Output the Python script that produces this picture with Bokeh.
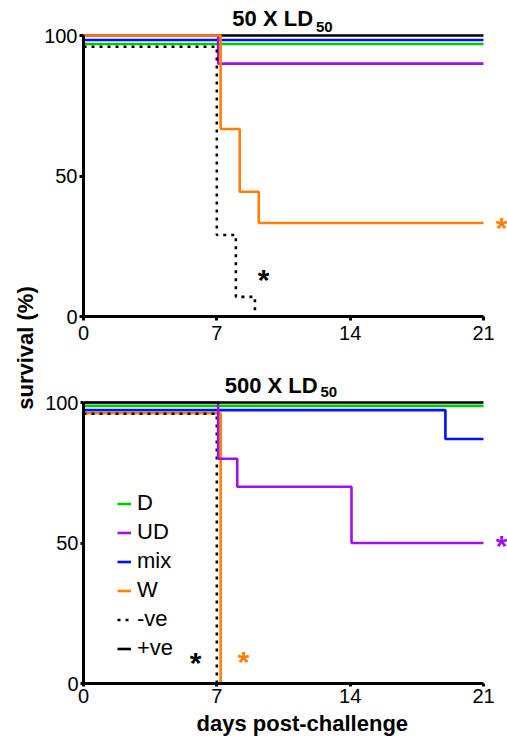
import math
from bokeh.plotting import figure
from bokeh.layouts import row, column
from bokeh.models import Range1d, FixedTicker, Legend, LegendItem
from bokeh.core.properties import value
from bokeh.embed import file_html
from bokeh.resources import INLINE

FONT = "Liberation Sans"

# ---------------- data ----------------
groups = ["D", "UD", "mix", "W", "-ve", "+ve"]
colors = {"D": "#00C800", "UD": "#A010E8", "mix": "#0010F8", "W": "#FF8000",
          "-ve": "black", "+ve": "black"}

x_ticks = [0, 7, 14, 21]
y_ticks = [0, 50, 100]

# 50 X LD50 (days, survival %)
top_D_days = [0, 21];                      top_D_surv = [97, 97]
top_UD_days = [0, 7.07, 21];               top_UD_surv = [100, 90, 90]
top_mix_days = [0, 21];                    top_mix_surv = [98.4, 98.4]
top_W_days = [0, 7.2, 8.2, 9.2, 21];       top_W_surv = [100, 66.7, 44.4, 33.3, 33.3]
top_neg_days = [0, 7.0, 8.0, 9.0];         top_neg_surv = [96, 29, 7, 0]
top_pos_days = [0, 21];                    top_pos_surv = [100, 100]

# 500 X LD50
bot_D_days = [0, 21];                      bot_D_surv = [98.8, 98.8]
bot_UD_days = [0, 7.07, 8.07, 14.07, 21];  bot_UD_surv = [100, 80, 70, 50, 50]
bot_mix_days = [0, 19, 21];                bot_mix_surv = [97.3, 87, 87]
bot_W_days = [0, 7.2];                     bot_W_surv = [96.2, 0]
bot_neg_days = [0, 7.0];                   bot_neg_surv = [96, 0]
bot_pos_days = [0, 21];                    bot_pos_surv = [100, 100]

LW = 2.6
DASH = "3 5"
PX = 2.81           # pixels per % on the y axis
DAY_PX = 400 / 21   # pixels per day on the x axis
FRAME_W = 424


def style(p, label_standoff, tick_out):
    p.xgrid.visible = False
    p.ygrid.visible = False
    p.outline_line_color = None
    p.background_fill_color = "white"
    for ax in (p.xaxis[0], p.yaxis[0]):
        ax.axis_line_width = 3
        ax.axis_line_color = "black"
        ax.major_tick_line_width = 3
        ax.major_tick_line_color = "black"
        ax.major_tick_in = 0
        ax.major_tick_out = tick_out
        ax.minor_tick_line_color = None
        ax.major_label_text_font = FONT
        ax.major_label_text_font_size = "20px"
        ax.major_label_text_color = "black"
    p.xaxis[0].ticker = FixedTicker(ticks=x_ticks)
    p.yaxis[0].ticker = FixedTicker(ticks=y_ticks)
    p.xaxis[0].bounds = (0, 21)
    p.yaxis[0].bounds = (0, 100)
    p.xaxis[0].major_label_standoff = label_standoff
    p.yaxis[0].major_label_standoff = 2


def step(p, xs, ys, g):
    kw = dict(mode="after", line_color=colors[g], line_width=LW)
    if g == "-ve":
        kw["line_dash"] = DASH
    return p.step(xs, ys, **kw)


def txt(p, x, y, s, size, color="black", align="left", bold=True):
    p.text(x=[x], y=[y], text=[s], text_align=align, text_baseline="alphabetic",
           text_font=value(FONT), text_font_style="bold" if bold else "normal",
           text_font_size=size, text_color=color)


# ---------------- top panel ----------------
top = figure(frame_width=FRAME_W, frame_height=316,
             x_range=Range1d(0, FRAME_W / DAY_PX), y_range=Range1d(0, 316 / PX),
             min_border_left=43, min_border_right=0, min_border_top=0,
             min_border_bottom=32, output_backend="svg", toolbar_location=None)
style(top, label_standoff=5, tick_out=4)

step(top, top_pos_days, top_pos_surv, "+ve")
step(top, top_D_days, top_D_surv, "D")
step(top, top_mix_days, top_mix_surv, "mix")
step(top, top_UD_days, top_UD_surv, "UD")
step(top, top_neg_days, top_neg_surv, "-ve")
step(top, top_W_days, top_W_surv, "W")

txt(top, 12.05, 106.0, "50 X LD", "22px", align="right")
txt(top, 12.2, 103.1, "50", "15px")
txt(top, 9.45, 13.3, "*", "30px", align="center")
txt(top, 21.95, 31.7, "*", "30px", color=colors["W"], align="center")

# ---------------- bottom panel ----------------
bot = figure(frame_width=FRAME_W, frame_height=335,
             x_range=Range1d(0, FRAME_W / DAY_PX), y_range=Range1d(0, 335 / PX),
             min_border_left=43, min_border_right=0, min_border_top=0,
             min_border_bottom=28, output_backend="svg", toolbar_location=None)
style(bot, label_standoff=2, tick_out=3)

r = {}
r["W"] = step(bot, bot_W_days, bot_W_surv, "W")
r["-ve"] = step(bot, bot_neg_days, bot_neg_surv, "-ve")
r["D"] = step(bot, bot_D_days, bot_D_surv, "D")
r["mix"] = step(bot, bot_mix_days, bot_mix_surv, "mix")
r["UD"] = step(bot, bot_UD_days, bot_UD_surv, "UD")
r["+ve"] = step(bot, bot_pos_days, bot_pos_surv, "+ve")

txt(bot, 12.29, 106.15, "500 X LD", "22px", align="right")
txt(bot, 12.44, 103.7, "50", "15px")
txt(bot, 5.88, 7.3, "*", "30px", align="center")
txt(bot, 8.4, 8.0, "*", "30px", color=colors["W"], align="center")
txt(bot, 21.95, 49.2, "*", "30px", color=colors["UD"], align="center")

legend = Legend(items=[LegendItem(label=g, renderers=[r[g]]) for g in groups],
                location=(34, 22), padding=0, margin=0, spacing=3,
                glyph_height=25, glyph_width=14, label_height=25,
                label_standoff=6, label_text_font=FONT,
                label_text_font_size="22px", label_text_color="black",
                border_line_color=None, background_fill_alpha=0)
bot.add_layout(legend)

# ---------------- axis titles ----------------
ylab = figure(width=40, height=736, x_range=Range1d(0, 40), y_range=Range1d(0, 736),
              x_axis_location=None, y_axis_location=None, min_border=0,
              output_backend="svg", toolbar_location=None)
ylab.xgrid.visible = False
ylab.ygrid.visible = False
ylab.outline_line_color = None
ylab.text(x=[25], y=[736 - 347.5], text=["survival (%)"], angle=math.pi / 2,
          text_align="center", text_baseline="middle", text_font=value(FONT),
          text_font_style="bold", text_font_size="22px", text_color="black")

xlab = figure(width=43 + FRAME_W, height=25, x_range=Range1d(0, 43 + FRAME_W),
              y_range=Range1d(0, 25),
              x_axis_location=None, y_axis_location=None, min_border=0,
              output_backend="svg", toolbar_location=None)
xlab.xgrid.visible = False
xlab.ygrid.visible = False
xlab.outline_line_color = None
xlab.text(x=[241], y=[13.0], text=["days post-challenge"], text_align="center",
          text_baseline="alphabetic", text_font=value(FONT), text_font_style="bold",
          text_font_size="22px", text_color="black")

layout = row(ylab, column(top, bot, xlab))

open("out.html", "w").write(file_html(layout, INLINE))
